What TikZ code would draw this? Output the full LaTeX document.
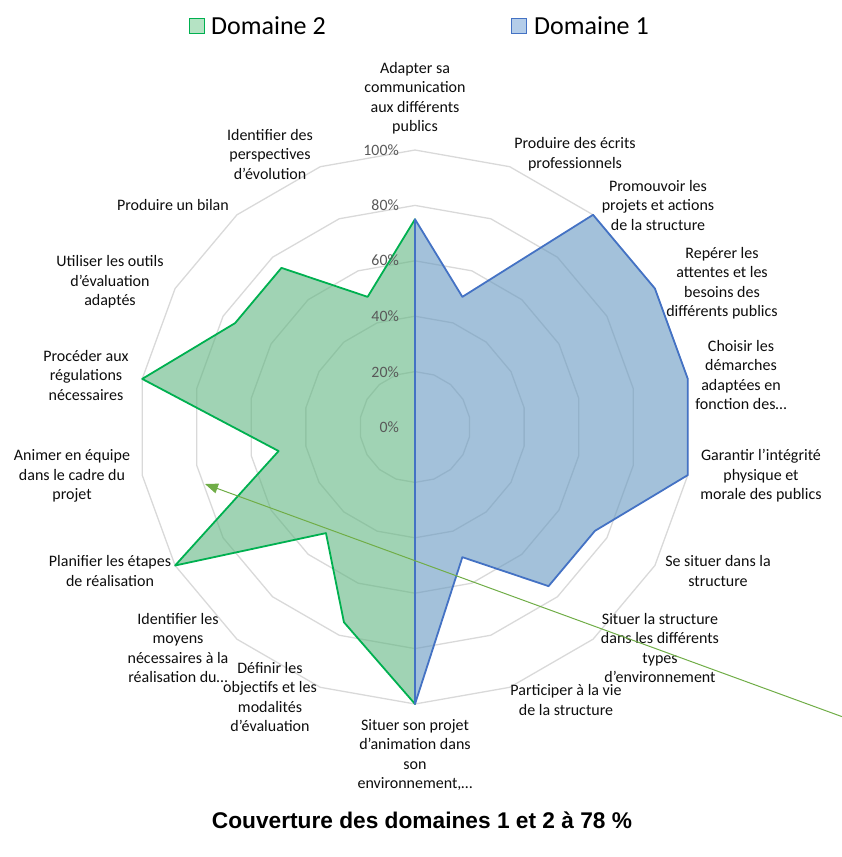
\documentclass[tikz,border=0pt]{standalone}
\usepackage{fontspec}
\setmainfont{Carlito}
\newfontfamily\arialfont{Liberation Sans}
\usetikzlibrary{arrows.meta}
\definecolor{gridgray}{RGB}{217,217,217}
\definecolor{gline}{RGB}{0,176,80}
\definecolor{bline}{RGB}{68,114,196}
\definecolor{gfill}{RGB}{97,182,130}
\definecolor{bfill}{RGB}{102,152,193}
\definecolor{glegend}{RGB}{181,227,196}
\definecolor{blegend}{RGB}{180,205,233}
\definecolor{arrowgreen}{RGB}{112,173,71}
\definecolor{pctgray}{RGB}{89,89,89}
\definecolor{labtext}{RGB}{13,13,13}
\tikzset{
  gridline/.style={draw=gridgray, line width=1.3pt},
  greenpoly/.style={draw=gline, fill=gfill, fill opacity=0.6, draw opacity=1, line width=1.8pt, line join=round},
  bluepoly/.style={draw=bline, fill=bfill, fill opacity=0.6, draw opacity=1, line width=1.8pt, line join=round},
  axlabel/.style={align=center, text=labtext, font=\fontsize{16}{19.5}\selectfont, inner sep=0pt},
  pctlabel/.style={anchor=east, text=pctgray, font=\fontsize{15.8}{18}\selectfont, inner sep=0pt},
  legtext/.style={anchor=west, text=black, font=\fontsize{26}{30}\selectfont, inner sep=0pt},
  connector/.style={draw=arrowgreen, line width=1pt, -{Triangle[length=13pt,width=10pt]}}
}
\begin{document}
\begin{tikzpicture}[x=1pt,y=-1pt]
\useasboundingbox (0,0) rectangle (842,857);
\def\cx{415}\def\cy{427}\def\R{277}
% grid rings
\foreach \r in {0.2,0.4,0.6,0.8,1.0} {
  \draw[gridline] ({\cx},{\cy-\R*\r}) \foreach \i in {1,...,17} { -- ({\cx+\R*\r*sin(20*\i)},{\cy-\R*\r*cos(20*\i)}) } -- cycle;
}
% Domaine 2 (green)
\filldraw[greenpoly] (\cx,\cy) \foreach \k/\v in {9/1,10/0.75,11/0.5,12/1,13/0.5,14/1,15/0.75,16/0.75,17/0.5,18/0.75} { -- ({\cx+\R*\v*sin(20*\k)},{\cy-\R*\v*cos(20*\k)}) } -- cycle;
% Domaine 1 (blue)
\filldraw[bluepoly] (\cx,\cy) \foreach \k/\v in {0/0.75,1/0.5,2/1,3/1,4/1,5/1,6/0.75,7/0.75,8/0.5,9/1} { -- ({\cx+\R*\v*sin(20*\k)},{\cy-\R*\v*cos(20*\k)}) } -- cycle;
% percent labels
\node[pctlabel] (p100) at (399,150) {100\%};
\node[pctlabel] (p80) at (399,205) {80\%};
\node[pctlabel] (p60) at (399,260) {60\%};
\node[pctlabel] (p40) at (399,316) {40\%};
\node[pctlabel] (p20) at (399,372) {20\%};
\node[pctlabel] (p0) at (399,427) {0\%};
% axis labels
\node[axlabel] (a0) at (415,98) {Adapter sa\\communication\\aux différents\\publics};
\node[axlabel] (a1) at (575,154) {Produire des écrits\\professionnels};
\node[axlabel] (a2) at (658,205) {Promouvoir les\\projets et actions\\de la structure};
\node[axlabel] (a3) at (722,283) {Repérer les\\attentes et les\\besoins des\\différents publics};
\node[axlabel] (a4) at (741,375) {Choisir les\\démarches\\adaptées en\\fonction des…};
\node[axlabel] (a5) at (761,476) {Garantir l’intégrité\\physique et\\morale des publics};
\node[axlabel] (a6) at (718,571) {Se situer dans la\\structure};
\node[axlabel] (a7) at (660,648) {Situer la structure\\dans les différents\\types\\d’environnement};
\node[axlabel] (a8) at (566,700) {Participer à la vie\\de la structure};
\node[axlabel] (a9) at (415,755) {Situer son projet\\d’animation dans\\son\\environnement,…};
\node[axlabel] (a10) at (270,697) {Définir les\\objectifs et les\\modalités\\d’évaluation};
\node[axlabel] (a11) at (178,648) {Identifier les\\moyens\\nécessaires à la\\réalisation du…};
\node[axlabel] (a12) at (110,571) {Planifier les étapes\\de réalisation};
\node[axlabel] (a13) at (72,476) {Animer en équipe\\dans le cadre du\\projet};
\node[axlabel] (a14) at (86,375) {Procéder aux\\régulations\\nécessaires};
\node[axlabel] (a15) at (110,282) {Utiliser les outils\\d’évaluation\\adaptés};
\node[axlabel] (a16) at (173,205) {Produire un bilan};
\node[axlabel] (a17) at (270,154) {Identifier des\\perspectives\\d’évolution};
% stray green arrow
\coordinate (arrowstart) at (843,717);
\coordinate (arrowend) at (205,484);
\draw[connector] (arrowstart) -- (arrowend);
% legend
\node[draw=gline, fill=glegend, line width=1pt, minimum size=15pt, inner sep=0pt] (leg2) at (196.5,25.5) {};
\node[legtext] (leg2t) at (211,26) {Domaine 2};
\node[draw=bline, fill=blegend, line width=1pt, minimum size=15pt, inner sep=0pt] (leg1) at (519,25.5) {};
\node[legtext] (leg1t) at (534,26) {Domaine 1};
% title
\node[font=\arialfont\bfseries\fontsize{22.7}{26}\selectfont, inner sep=0pt] (title) at (422,820) {Couverture des domaines 1 et 2 à 78 \%};
\end{tikzpicture}
\end{document}
